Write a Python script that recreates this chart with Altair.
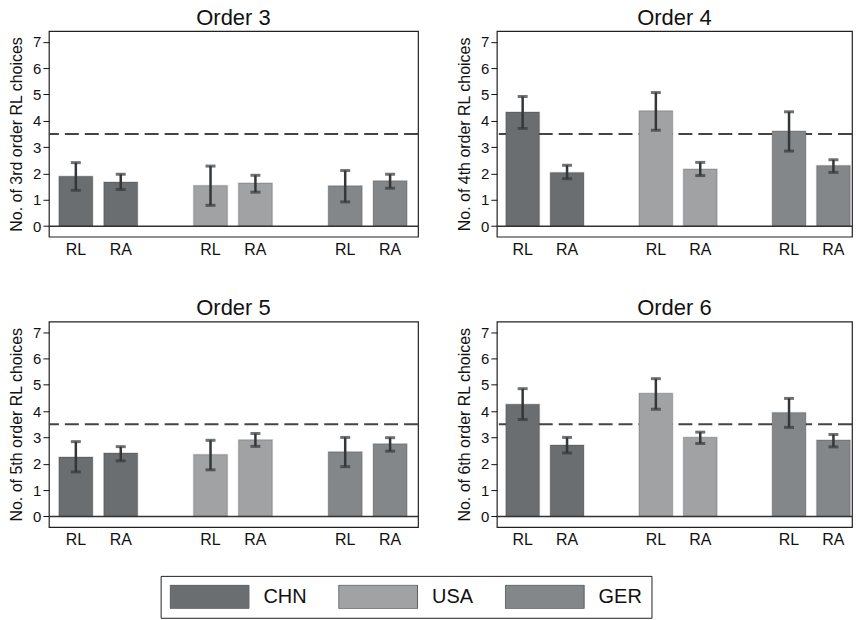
import altair as alt
import pandas as pd

countries = ["CHN", "USA", "GER"]
treatments = ["RL", "RA"]
orders = [3, 4, 5, 6]
order_words = ["3rd", "4th", "5th", "6th"]
country_colors = ["#6b6e70", "#a1a2a4", "#84878a"]
ref_level = 3.5

# bar order within each panel: CHN RL, CHN RA, USA RL, USA RA, GER RL, GER RA
means_o3 = [1.89, 1.68, 1.54, 1.64, 1.53, 1.72]
upper_o3 = [2.41, 1.97, 2.28, 1.93, 2.11, 1.97]
lower_o3 = [1.36, 1.39, 0.79, 1.29, 0.92, 1.44]

means_o4 = [4.33, 2.04, 4.38, 2.17, 3.61, 2.30]
upper_o4 = [4.92, 2.31, 5.07, 2.42, 4.34, 2.52]
lower_o4 = [3.71, 1.80, 3.64, 1.92, 2.85, 2.04]

means_o5 = [2.26, 2.41, 2.35, 2.91, 2.46, 2.76]
upper_o5 = [2.84, 2.65, 2.89, 3.15, 3.00, 2.99]
lower_o5 = [1.69, 2.11, 1.77, 2.66, 1.89, 2.48]

means_o6 = [4.26, 2.71, 4.68, 3.01, 3.95, 2.90]
upper_o6 = [4.85, 3.00, 5.23, 3.20, 4.48, 3.11]
lower_o6 = [3.68, 2.41, 4.07, 2.77, 3.38, 2.64]

panel_data = {
    3: (means_o3, upper_o3, lower_o3),
    4: (means_o4, upper_o4, lower_o4),
    5: (means_o5, upper_o5, lower_o5),
    6: (means_o6, upper_o6, lower_o6),
}

slots = ["CHN|RL", "CHN|RA", "gap1", "USA|RL", "USA|RA", "gap2", "GER|RL", "GER|RA"]
FONT = "Liberation Sans"

legend = alt.Legend(
    title=None,
    orient="none",
    legendX=112,
    legendY=546,
    direction="horizontal",
    columns=3,
    symbolType="M-1,-0.3H1V0.3H-1Z",
    symbolSize=6241,
    clipHeight=24,
    symbolOpacity=1,
    symbolStrokeColor="#5a5c5e",
    symbolStrokeWidth=1,
    labelFont=FONT,
    labelFontSize=20,
    labelColor="#111",
    labelOffset=14,
    columnPadding=31,
    padding=9,
    strokeColor="#222",
    fillColor="white",
)


def panel(order, word, width, x_scale):
    means, upper, lower = panel_data[order]
    rows = []
    i = 0
    for c in countries:
        for t in treatments:
            rows.append({"slot": f"{c}|{t}", "country": c, "treat": t,
                         "mean": means[i], "hi": upper[i], "lo": lower[i]})
            i += 1
    df = pd.DataFrame(rows)
    base = alt.Chart(df)

    xenc = alt.X(
        "slot:N",
        scale=x_scale,
        axis=alt.Axis(
            title=None,
            labelExpr="indexof(datum.value, '|') > 0 ? split(datum.value, '|')[1] : ''",
            ticks=False,
            domain=False,
            labelAngle=0,
            labelFontSize=16,
            labelPadding=5,
            labelColor="#111",
            labelFont=FONT,
        ),
    )
    yscale = alt.Scale(domain=[-0.4, 7.4], nice=False, zero=False)
    yaxis = alt.Axis(
        title=f"No. of {word} order RL choices",
        values=[0, 1, 2, 3, 4, 5, 6, 7],
        grid=False,
        domain=False,
        tickSize=6,
        tickColor="#111",
        labelFontSize=15,
        labelPadding=2,
        labelColor="#111",
        labelFont=FONT,
        labelOverlap=False,
        titleFont=FONT,
        titleFontSize=16,
        titleFontWeight="normal",
        titleColor="#111",
        titlePadding=8,
    )

    ref = alt.Chart(pd.DataFrame({"ref": [ref_level]})).mark_rule(
        color="#444", strokeWidth=2, strokeDash=[14, 6]
    ).encode(y=alt.Y("ref:Q", scale=yscale, axis=yaxis))

    bars = base.mark_bar(stroke="black", strokeOpacity=0.15, strokeWidth=1.5).encode(
        x=xenc,
        y=alt.Y("mean:Q", scale=yscale, axis=yaxis),
        y2=alt.datum(0),
        color=alt.Color("country:N",
                        scale=alt.Scale(domain=countries, range=country_colors),
                        legend=legend),
    )

    zero = alt.Chart(pd.DataFrame({"z": [0]})).mark_rule(
        color="#333", strokeWidth=1.5
    ).encode(y=alt.Y("z:Q", scale=yscale, axis=yaxis))

    err = base.mark_rule(color="#33373a", strokeWidth=2.5).encode(
        x=xenc, y=alt.Y("lo:Q", scale=yscale, axis=yaxis), y2="hi:Q"
    )
    cap_hi = base.mark_tick(color="#33373a", size=10, thickness=3).encode(
        x=xenc, y=alt.Y("hi:Q", scale=yscale, axis=yaxis)
    )
    cap_lo = base.mark_tick(color="#33373a", size=10, thickness=3).encode(
        x=xenc, y=alt.Y("lo:Q", scale=yscale, axis=yaxis)
    )

    return alt.layer(ref, bars, zero, err, cap_hi, cap_lo).properties(
        width=width,
        height=206,
        title=alt.TitleParams(f"Order {order}", fontSize=22, font=FONT,
                              fontWeight="normal", color="#111", offset=1.5,
                              anchor="middle"),
    )


left_scale = alt.Scale(domain=slots, paddingInner=0.244, paddingOuter=0.233, align=0.476)
right_scale = alt.Scale(domain=slots, paddingInner=0.24, paddingOuter=0.12, align=0.84)

p3 = panel(3, "3rd", 370, left_scale)
p4 = panel(4, "4th", 356, right_scale)
p5 = panel(5, "5th", 370, left_scale)
p6 = panel(6, "6th", 356, right_scale)

chart = alt.vconcat(
    alt.hconcat(p3, p4, spacing=36),
    alt.hconcat(p5, p6, spacing=36),
    spacing=37,
).properties(
    padding={"top": -3.5, "left": 0, "right": 0, "bottom": 0}
).configure_view(stroke="#222", strokeWidth=1.2)

chart.save("out.html", embed_options={"renderer": "svg", "actions": False})
